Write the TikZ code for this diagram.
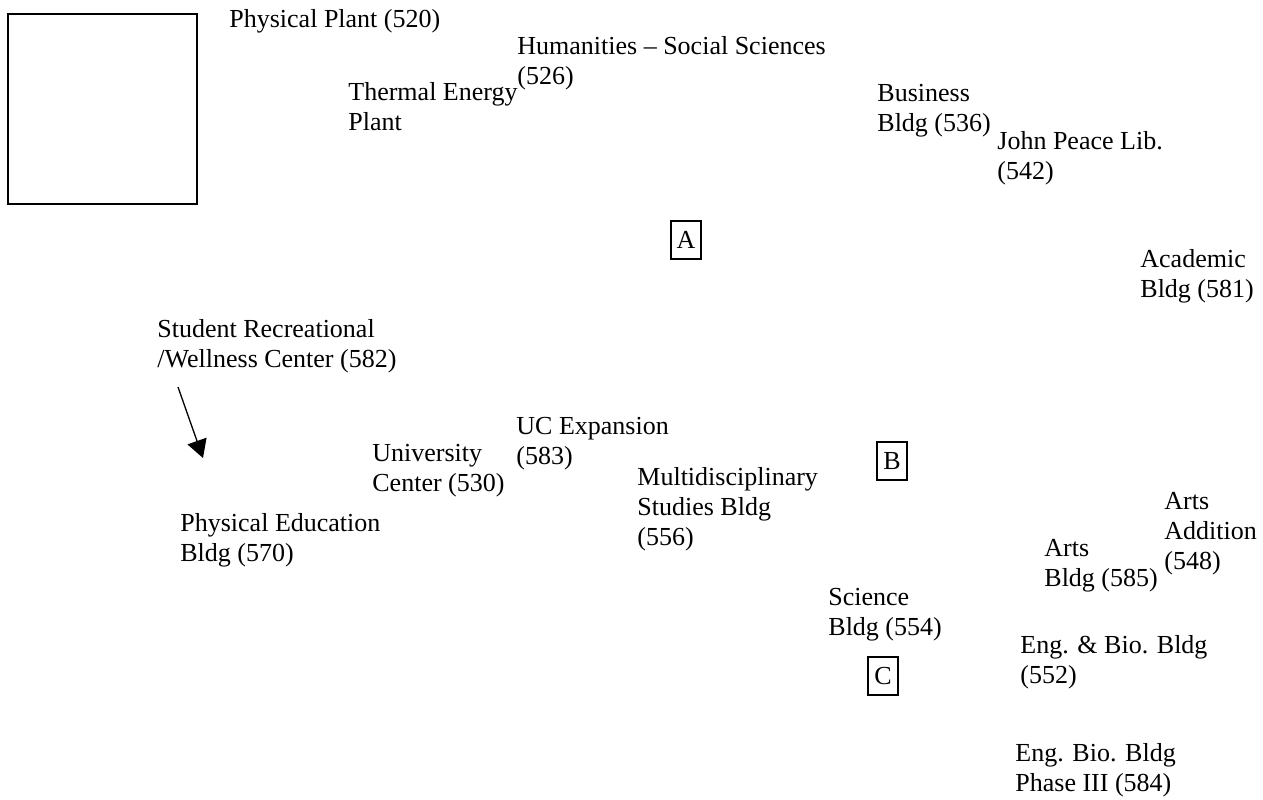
\documentclass[tikz,border=0pt]{standalone}
\usepackage{fontspec}
\setmainfont{Liberation Serif}
\usetikzlibrary{arrows.meta}

\begin{document}
\begin{tikzpicture}[x=0.5pt, y=-0.5pt, every node/.style={font=\fontsize{13}{15}\selectfont},
	bldg/.style={anchor=base west, inner sep=0pt, align=left},
	letterbox/.style={draw, line width=0.65pt, inner sep=0pt, minimum width=15pt, minimum height=19pt}]
	\useasboundingbox (0,0) rectangle (1263,799);
	\draw[line width=1pt] (8,14) rectangle (197,204);
	% labels are placed at the baseline of their last line
	\node[bldg] (pplant) at (229,27) {Physical Plant (520)};
	\node[bldg] (hum) at (517,84) {Humanities -- Social Sciences\\(526)};
	\node[bldg] (thermal) at (348,130) {Thermal Energy\\Plant};
	\node[bldg] (business) at (877,131) {Business\\Bldg (536)};
	\node[bldg] (library) at (997,179) {John Peace Lib.\\(542)};
	\node[bldg] (academic) at (1140,297) {Academic\\Bldg (581)};
	\node[letterbox] (A) at (686,240) {A};
	\node[bldg] (wellness) at (157,367) {Student Recreational\\/Wellness Center (582)};
	\node[bldg] (uc) at (372,491) {University\\Center (530)};
	\node[bldg] (ucexp) at (516,464) {UC Expansion\\(583)};
	\node[bldg] (multi) at (637,545) {Multidisciplinary\\Studies Bldg\\(556)};
	\node[letterbox] (B) at (892,461) {B};
	\node[bldg] (pe) at (180,561) {Physical Education\\Bldg (570)};
	\node[bldg] (artsadd) at (1164,569) {Arts\\Addition\\(548)};
	\node[bldg] (arts) at (1044,586) {Arts\\Bldg (585)};
	\node[bldg] (science) at (828,635) {Science\\Bldg (554)};
	\node[letterbox] (C) at (883,676) {C};
	\node[bldg] (engbio) at (1020,683) {Eng. \& Bio. Bldg\\(552)};
	\node[bldg] (engbio3) at (1015,791) {Eng. Bio. Bldg\\Phase III (584)};
	% arrow to the PE building
	\coordinate (arrS) at (178,387);
	\coordinate (arrE) at (203,458);
	\draw[line width=0.65pt, -{Triangle[length=9pt, width=10pt]}] (arrS) -- (arrE);
\end{tikzpicture}
\end{document}
